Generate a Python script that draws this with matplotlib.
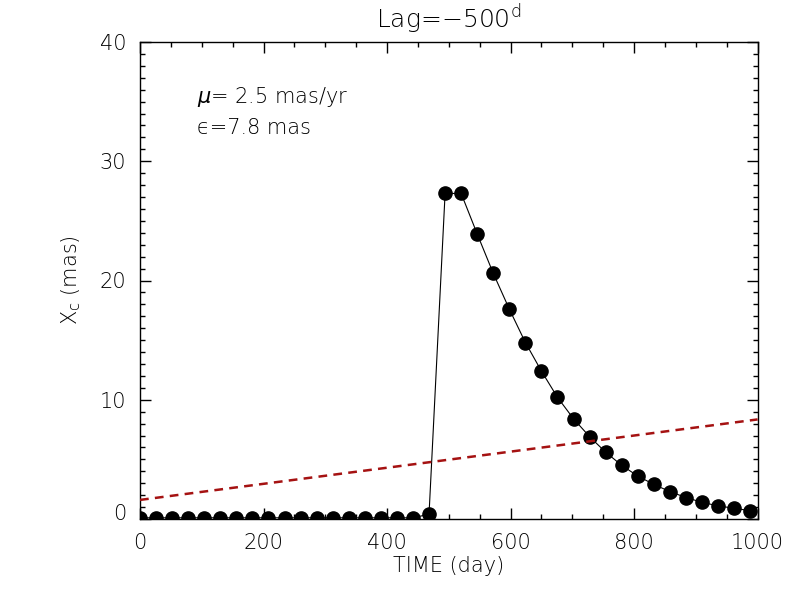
import numpy as np
import matplotlib
matplotlib.use("Agg")
import matplotlib.pyplot as plt
import matplotlib.transforms as mtransforms

# sampled light curve (days, mas)
time_day = [0, 26, 52, 78, 104, 130, 156, 182, 208, 234, 260, 286, 312, 338,
            364, 390, 416, 442, 468, 494, 520, 546, 572, 598, 624, 650, 676,
            702, 728, 754, 780, 806, 832, 858, 884, 910, 936, 962, 988]
xc_mas = [0.1, 0.1, 0.1, 0.1, 0.1, 0.1, 0.1, 0.1, 0.1, 0.1, 0.1, 0.1, 0.1,
          0.1, 0.1, 0.1, 0.1, 0.1, 0.4, 27.3, 27.3, 23.9, 20.6, 17.6, 14.8,
          12.4, 10.2, 8.4, 6.9, 5.6, 4.5, 3.6, 2.9, 2.3, 1.8, 1.4, 1.1, 0.9,
          0.7]

# red dashed reference line
ref_time = [0, 1000]
ref_val = [1.6, 8.35]

plt.rcParams['font.family'] = ['DejaVu Sans']
plt.rcParams['font.weight'] = 'light'
plt.rcParams['axes.labelweight'] = 'light'
plt.rcParams['axes.titleweight'] = 'light'
plt.rcParams['mathtext.default'] = 'regular'
plt.rcParams['font.size'] = 15

fig = plt.figure(figsize=(8, 6), dpi=100)
ax = fig.add_axes([0.175, 0.135, 0.772, 0.795])

ax.plot(time_day, xc_mas, color='black', lw=0.8, zorder=2)
ax.plot(time_day, xc_mas, 'o', color='black', ms=9.5, zorder=3)
ax.plot(ref_time, ref_val, color='#a51212', lw=1.8, dashes=(3.5, 2.5), zorder=4)

ax.set_xlim(0, 1000)
ax.set_ylim(0, 40)
ax.set_xticks(np.arange(0, 1001, 200))
ax.set_xticks(np.arange(0, 1001, 50), minor=True)
ax.set_yticks(np.arange(0, 41, 10))
ax.set_yticks(np.arange(0, 41, 1), minor=True)
ax.tick_params(which='both', direction='in', top=True, right=True, width=1)
ax.tick_params(which='major', length=8, pad=10, labelcolor='black')
ax.tick_params(which='minor', length=3.6)
for sp in ax.spines.values():
    sp.set_linewidth(1)

# lift the bottom y label a little, like the original
lab0 = ax.get_yticklabels()[0]
lab0.set_transform(lab0.get_transform() +
                   mtransforms.ScaledTranslation(0, 7 / 100, fig.dpi_scale_trans))

ax.set_xlabel('TIME (day)', labelpad=2, fontweight='light')
ax.set_ylabel('X$_c$ (mas)', labelpad=12, fontweight='light')
ax.set_title('Lag=\u2212500$^d$', pad=10, fontweight='light')

ax.text(92, 35.4, r'$\mathit{\mu}$= 2.5 mas/yr', va='center', ha='left')
ax.text(92, 32.8, '\u03f5=7.8 mas', va='center', ha='left')

fig.savefig('out.png', dpi=100)
